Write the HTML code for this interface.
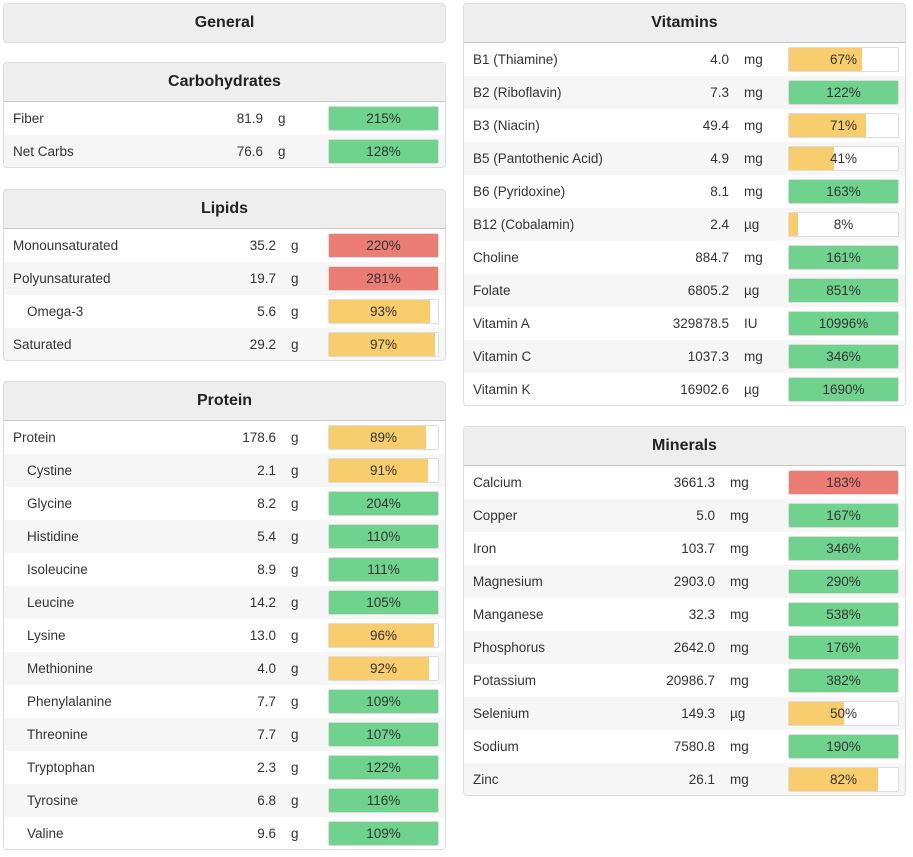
<!DOCTYPE html>
<html><head><meta charset="utf-8"><style>
body{margin:0;width:913px;height:857px;background:#fff;font-family:"Liberation Sans",sans-serif;color:#333;position:relative;overflow:hidden}
.panel{position:absolute;width:443px;border:1px solid #ddd;border-radius:4px;box-sizing:border-box;background:#fff;overflow:hidden}
.hdr{height:38px;background:#eee;border-bottom:1px solid #c8c8c8;font-weight:bold;font-size:16px;text-align:center;line-height:38px;color:#222}
.row{height:33px;position:relative;font-size:13.5px;line-height:33px}
.nm{position:absolute;left:9px}
.val{position:absolute;text-align:right;width:100px}
.unit{position:absolute}
.bar{position:absolute;left:324px;top:4px;width:111px;height:25px;border:1px solid #ddd;border-radius:2px;box-sizing:border-box;background:#fff;overflow:hidden}
.fill{position:absolute;left:0;top:0;bottom:0}
.pct{position:absolute;left:0;right:0;top:0;text-align:center;line-height:23px;font-size:13.5px;color:#333}
</style></head><body>
<div class="panel" style="left:3px;top:3px;height:40px"><div class="hdr">General</div></div>
<div id="root"></div>
<script>
const carbNames=["Fiber","Net Carbs"];const carbVals=["81.9","76.6"];const carbUnits=["g","g"];const carbPct=[215,128];const carbInd=[0,0];
const lipNames=["Monounsaturated","Polyunsaturated","Omega-3","Saturated"];const lipVals=["35.2","19.7","5.6","29.2"];const lipUnits=["g","g","g","g"];const lipPct=[220,281,93,97];const lipInd=[0,0,1,0];const lipColor=["r","r","y","y"];
const proNames=["Protein","Cystine","Glycine","Histidine","Isoleucine","Leucine","Lysine","Methionine","Phenylalanine","Threonine","Tryptophan","Tyrosine","Valine"];
const proVals=["178.6","2.1","8.2","5.4","8.9","14.2","13.0","4.0","7.7","7.7","2.3","6.8","9.6"];
const proPct=[89,91,204,110,111,105,96,92,109,107,122,116,109];
const vitNames=["B1 (Thiamine)","B2 (Riboflavin)","B3 (Niacin)","B5 (Pantothenic Acid)","B6 (Pyridoxine)","B12 (Cobalamin)","Choline","Folate","Vitamin A","Vitamin C","Vitamin K"];
const vitVals=["4.0","7.3","49.4","4.9","8.1","2.4","884.7","6805.2","329878.5","1037.3","16902.6"];
const vitUnits=["mg","mg","mg","mg","mg","µg","mg","µg","IU","mg","µg"];
const vitPct=[67,122,71,41,163,8,161,851,10996,346,1690];
const minNames=["Calcium","Copper","Iron","Magnesium","Manganese","Phosphorus","Potassium","Selenium","Sodium","Zinc"];
const minVals=["3661.3","5.0","103.7","2903.0","32.3","2642.0","20986.7","149.3","7580.8","26.1"];
const minUnits=["mg","mg","mg","mg","mg","mg","mg","µg","mg","mg"];
const minPct=[183,167,346,290,538,176,382,50,190,82];
const minColor=["r","g","g","g","g","g","g","y","g","y"];
const COL={g:"#6fd38d",y:"#f7cd6e",r:"#ec7d74"};
function panel(title,x,y,names,vals,units,pct,ind,colors,valRight,unitX){
  const p=document.createElement('div');p.className='panel';
  
  
  p.style.left=x+'px';p.style.top=y+'px';p.style.height=(39+names.length*33+1)+'px';
  const h=document.createElement('div');h.className='hdr';h.textContent=title;
  
  
  p.appendChild(h);
  const body=document.createElement('div');p.appendChild(body);
  names.forEach((n,i)=>{
    const r=document.createElement('div');r.className='row';
    
    
    r.style.background=i%2?'#f6f6f6':'#fff';
    const c=colors?COL[colors[i]]:(pct[i]>=100?COL.g:COL.y);
    const w=Math.min(pct[i],100);
    r.innerHTML='<span class="nm" style="left:'+(ind&&ind[i]?23:9)+'px">'+n+'</span><span class="val" style="left:'+(valRight-100)+'px">'+vals[i]+'</span><span class="unit" style="left:'+unitX+'px">'+units[i]+'</span><div class="bar"><div class="fill" style="width:'+w+'%;background:'+c+'"></div><div class="pct">'+pct[i]+'%</div></div>';
    r.querySelector('.bar');
    r.querySelector('.bar');
    body.appendChild(r);
  });
  document.getElementById('root').appendChild(p);
}
panel("Carbohydrates",3,62,carbNames,carbVals,carbUnits,carbPct,carbInd,null,259,274);
panel("Lipids",3,189,lipNames,lipVals,lipUnits,lipPct,lipInd,lipColor,272,287);
panel("Protein",3,381,proNames,proVals,proNames.map(()=>"g"),proPct,proNames.map((_,i)=>i?1:0),null,272,287);
panel("Vitamins",463,3,vitNames,vitVals,vitUnits,vitPct,null,null,265,280);
panel("Minerals",463,426,minNames,minVals,minUnits,minPct,null,minColor,251,266);
</script>
</body></html>
